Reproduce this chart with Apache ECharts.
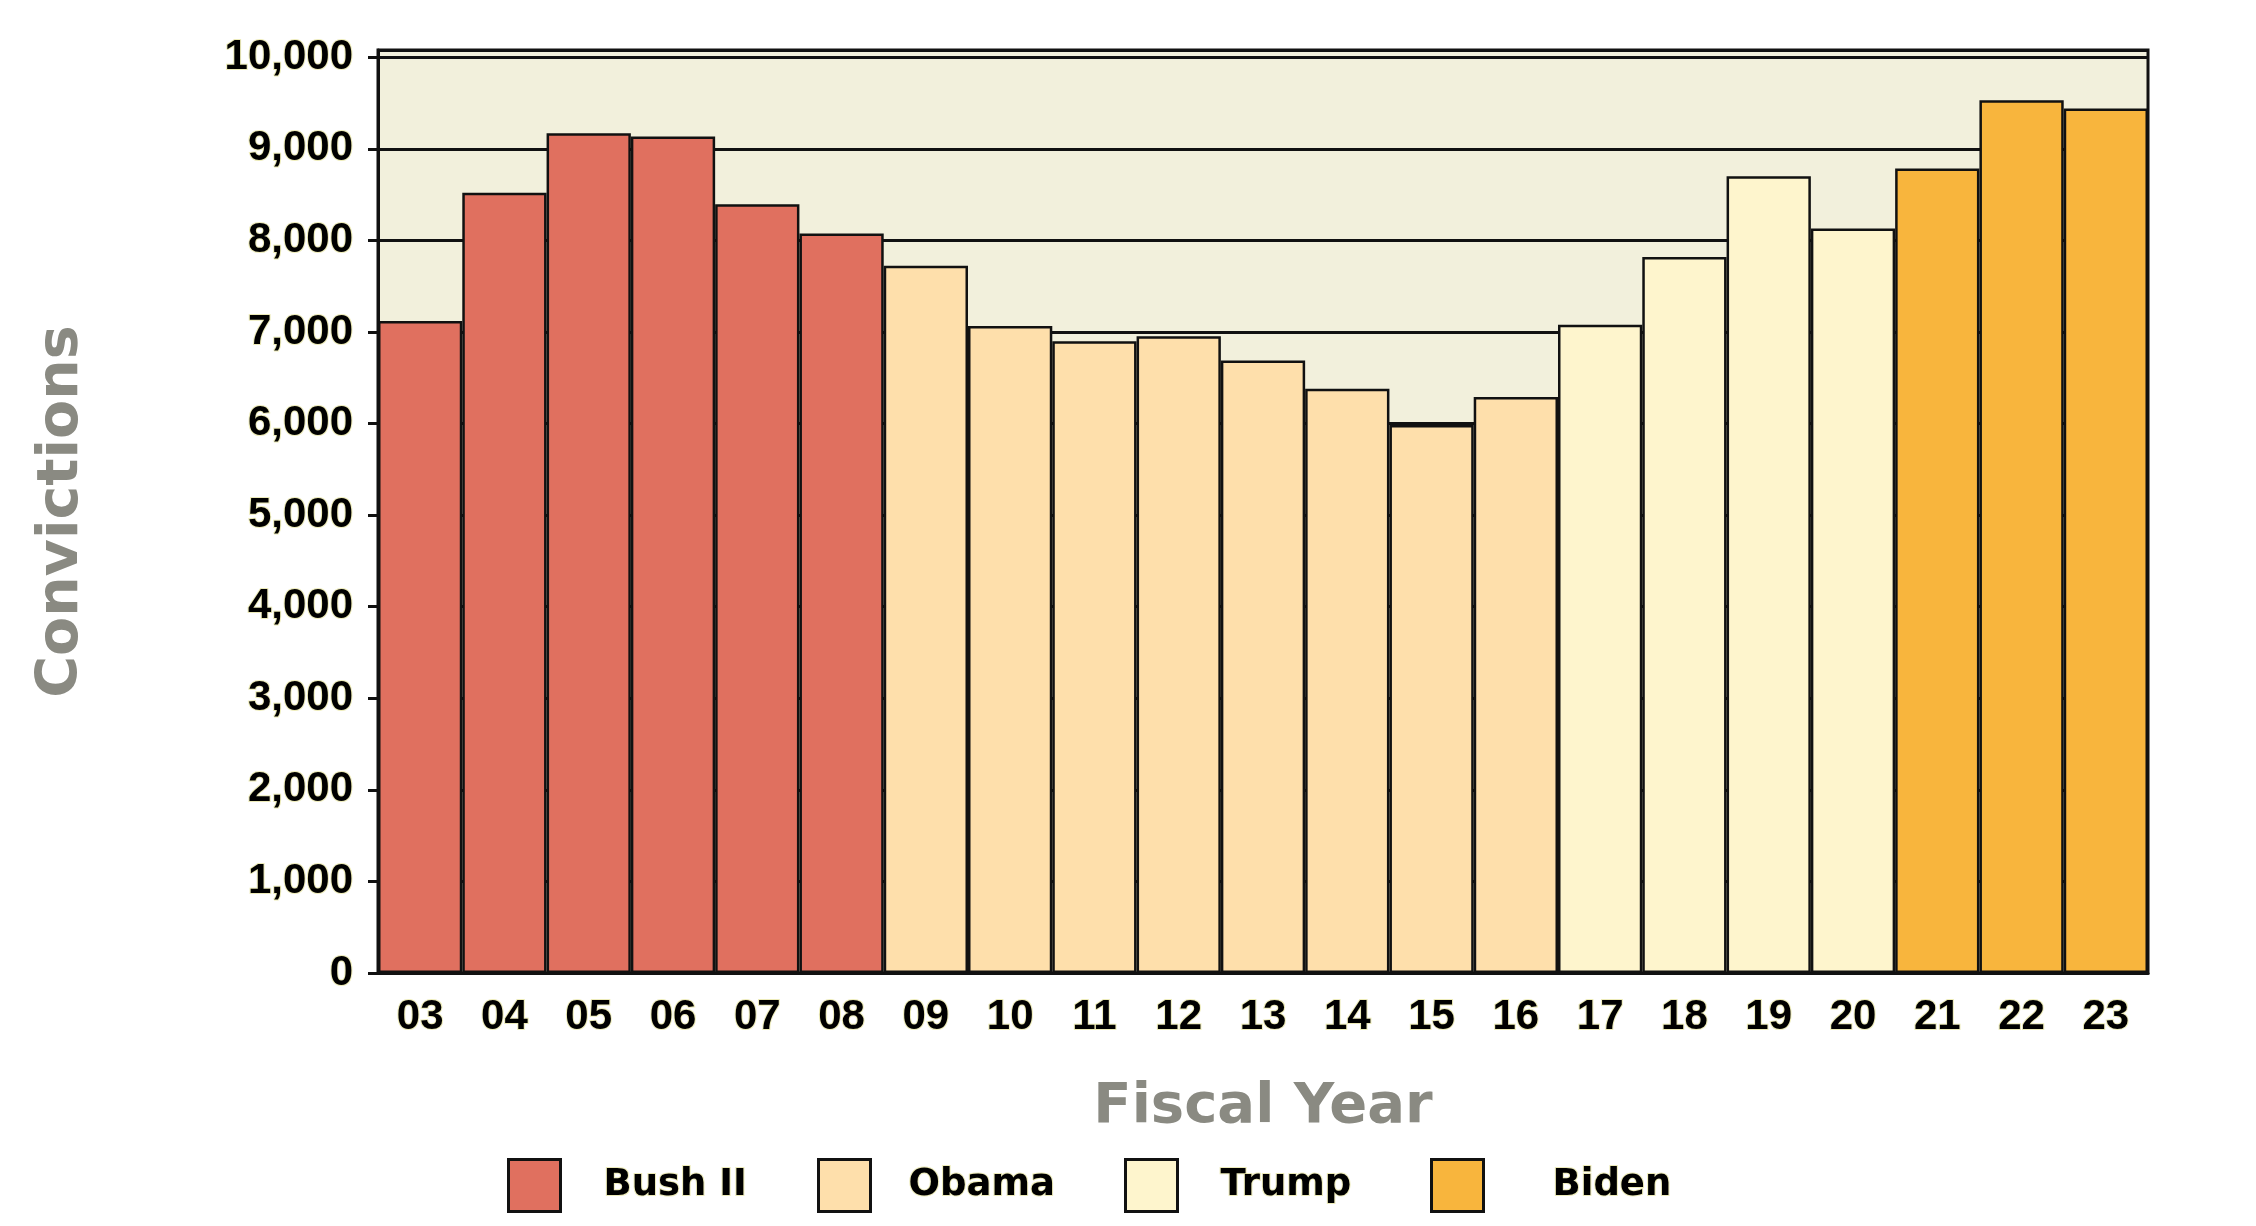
<!DOCTYPE html>
<html lang="en">

<head>
	<meta charset="UTF-8" />
	<script src="https://cdn.jsdelivr.net/npm/echarts@6/dist/echarts.min.js"></script>
	<title>Convictions by Fiscal Year</title>
	<style>
		html, body { margin: 0; padding: 0; background: #fff; }
	</style>
</head>

<body>
	<div id="main" style="width: 2256px; height: 1226px"></div>

	<script type="text/javascript">
		// fiscal years and conviction counts
		const years = ['03', '04', '05', '06', '07', '08', '09', '10', '11', '12', '13', '14', '15', '16', '17', '18', '19', '20', '21', '22', '23'];
		const convictions = [7120, 8520, 9170, 9135, 8395, 8075, 7725, 7065, 6900, 6955, 6690, 6380, 5985, 6290, 7080, 7820, 8700, 8130, 8785, 9530, 9440];
		const yearAdmin = ['Bush II', 'Bush II', 'Bush II', 'Bush II', 'Bush II', 'Bush II', 'Obama', 'Obama', 'Obama', 'Obama', 'Obama', 'Obama', 'Obama', 'Obama', 'Trump', 'Trump', 'Trump', 'Trump', 'Biden', 'Biden', 'Biden'];
		const admins = ['Bush II', 'Obama', 'Trump', 'Biden'];

		const colors = {
			'Bush II': '#E0705F',
			Obama: '#FEDFAB',
			Trump: '#FEF5CD',
			Biden: '#F8B53D',
		};
		// legend item placement (px) and gap between swatch and text
		const legendLeft = [502, 812, 1119, 1425];
		const legendPad = [38, 33, 38, 64];

		const halo = 'rgba(232, 230, 168, 0.8)';
		const labelFont = '"Liberation Sans", Arial, sans-serif';
		const nameFont = '"DejaVu Sans", Verdana, sans-serif';

		const chart = echarts.init(document.getElementById('main'));

		const series = admins.map(name => ({
			name,
			type: 'bar',
			stack: 'fy',
			barCategoryGap: '0%',
			data: convictions.map((v, i) => (yearAdmin[i] === name ? v : '-')),
			itemStyle: {
				color: colors[name],
				borderColor: '#111',
				borderWidth: 2.5,
			},
		}));

		const legend = admins.map((name, i) => ({
			left: legendLeft[i],
			top: 1153,
			itemWidth: 52,
			itemHeight: 52,
			icon: 'rect',
			itemStyle: { borderColor: '#111', borderWidth: 3 },
			textStyle: {
				fontFamily: nameFont,
				fontWeight: 'bold',
				fontSize: 37,
				color: '#000',
				padding: [0, 0, 0, legendPad[i]],
				textBorderColor: halo,
				textBorderWidth: 2,
			},
			data: [name],
		}));

		const option = {
			animation: false,
			backgroundColor: '#fff',
			grid: {
				left: 378,
				right: 108,
				top: 50,
				bottom: 253,
				show: true,
				backgroundColor: '#F2F0DC',
				borderColor: '#111',
				borderWidth: 3,
			},
			legend,
			xAxis: {
				type: 'category',
				data: years,
				name: 'Fiscal Year',
				nameLocation: 'middle',
				nameGap: 106,
				nameTextStyle: {
					fontFamily: nameFont,
					fontWeight: 'bold',
					fontSize: 56,
					color: '#8A8A82',
				},
				axisLine: { lineStyle: { color: '#111', width: 3 } },
				axisTick: { show: false },
				axisLabel: {
					margin: 23,
					fontFamily: labelFont,
					fontWeight: 'bold',
					fontSize: 42,
					color: '#000',
					textBorderColor: halo,
					textBorderWidth: 2,
				},
			},
			yAxis: {
				type: 'value',
				min: 0,
				max: 10080,
				interval: 1000,
				name: 'Convictions',
				nameLocation: 'middle',
				nameGap: 287,
				nameRotate: 90,
				nameTextStyle: {
					fontFamily: nameFont,
					fontWeight: 'bold',
					fontSize: 57,
					color: '#8A8A82',
				},
				axisLine: { show: true, lineStyle: { color: '#111', width: 3 } },
				axisTick: { show: true, length: 10, lineStyle: { color: '#111', width: 3 } },
				axisLabel: {
					margin: 25,
					showMaxLabel: false,
					fontFamily: labelFont,
					fontWeight: 'bold',
					fontSize: 42,
					color: '#000',
					textBorderColor: halo,
					textBorderWidth: 2,
					formatter: v => (v % 1000 === 0 ? v.toLocaleString('en-US') : ''),
				},
				splitLine: { lineStyle: { color: '#111', width: 3 } },
			},
			series,
		};
		chart.setOption(option);
	</script>
</body>

</html>
